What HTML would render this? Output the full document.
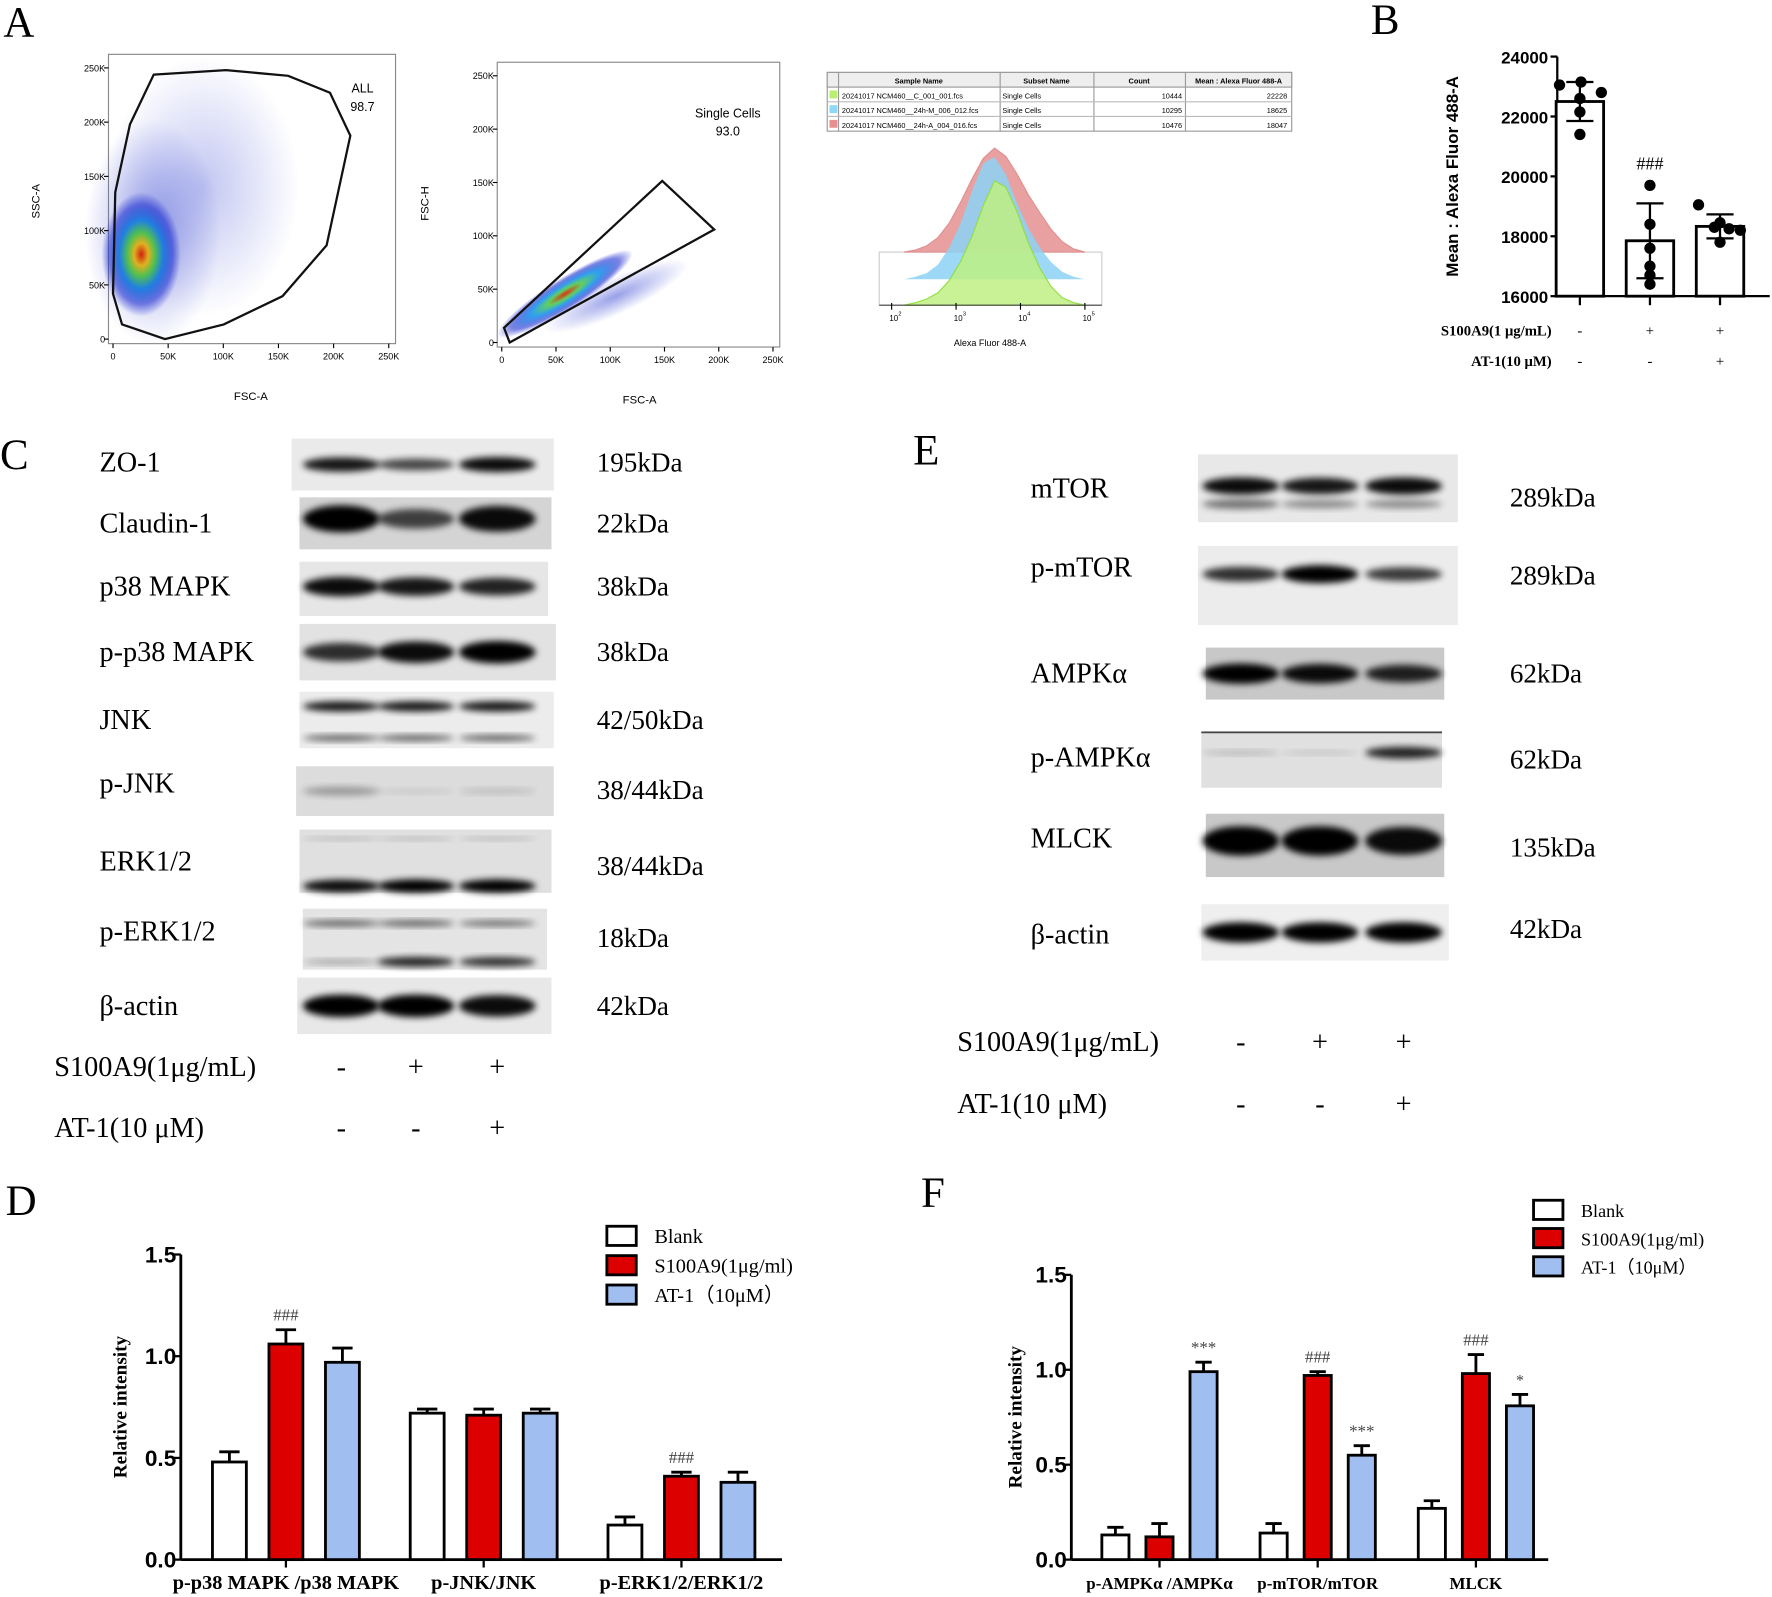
<!DOCTYPE html>
<html><head><meta charset="utf-8">
<style>
html,body{margin:0;padding:0;background:#fff;}
svg{display:block;}
.ser{font-family:"Liberation Serif",serif;}
.san{font-family:"Liberation Sans",sans-serif;}
</style></head>
<body>
<svg id="fig" width="1772" height="1597" viewBox="0 0 1568 1413" xmlns="http://www.w3.org/2000/svg">
<defs>
<filter id="blur3" x="-20%" y="-50%" width="140%" height="200%"><feGaussianBlur stdDeviation="3"/></filter>
<radialGradient id="cloud1" cx="0.5" cy="0.5" r="0.5">
<stop offset="0" stop-color="#d02010"/><stop offset="0.18" stop-color="#e0b020"/><stop offset="0.35" stop-color="#50c050"/><stop offset="0.55" stop-color="#2080e0"/><stop offset="0.8" stop-color="#2030d0" stop-opacity="0.6"/><stop offset="1" stop-color="#2030d0" stop-opacity="0"/>
</radialGradient>
<radialGradient id="cloud1b" cx="0.5" cy="0.5" r="0.5">
<stop offset="0" stop-color="#3040d0" stop-opacity="0.5"/><stop offset="1" stop-color="#3040d0" stop-opacity="0"/>
</radialGradient>
<radialGradient id="cloud2" cx="0.5" cy="0.5" r="0.5">
<stop offset="0" stop-color="#e03010"/><stop offset="0.25" stop-color="#60d060"/><stop offset="0.5" stop-color="#30a0f0"/><stop offset="0.8" stop-color="#2030d0" stop-opacity="0.6"/><stop offset="1" stop-color="#2030d0" stop-opacity="0"/>
</radialGradient>
</defs>

<text x="3" y="32" class="ser" font-size="38">A</text>
<text x="1213" y="30" class="ser" font-size="38">B</text>
<text x="0" y="415" class="ser" font-size="38">C</text>
<text x="808" y="411" class="ser" font-size="38">E</text>
<text x="5" y="1075" class="ser" font-size="38">D</text>
<text x="815" y="1068" class="ser" font-size="38">F</text>

<g id="scatter1">
<rect x="96" y="48" width="254" height="256" fill="none" stroke="#888" stroke-width="1"/>
<ellipse cx="135" cy="205" rx="60" ry="100" fill="url(#cloud1b)"/>
<ellipse cx="180" cy="165" rx="85" ry="115" fill="url(#cloud1b)" opacity="0.6"/>
<ellipse cx="125" cy="225" rx="35" ry="55" fill="url(#cloud1)"/>
<polygon points="136,66 200,62 255,67 292,82 310,120 289,217 250,262 198,287 146,300 108,287 100,260 102,170 115,110" fill="none" stroke="#111" stroke-width="2"/>
<text x="311" y="82" class="san" font-size="11">ALL</text>
<text x="310" y="98" class="san" font-size="11">98.7</text>
<text x="35" y="178" class="san" font-size="10" transform="rotate(-90 35 178)" text-anchor="middle">SSC-A</text>
<text x="222" y="354" class="san" font-size="10" text-anchor="middle">FSC-A</text>
</g>
<g id="scatter2">
<rect x="440" y="55" width="250" height="252" fill="none" stroke="#888" stroke-width="1"/>
<ellipse cx="500" cy="260" rx="70" ry="14" transform="rotate(-32 500 260)" fill="url(#cloud2)"/>
<ellipse cx="545" cy="262" rx="70" ry="16" transform="rotate(-25 545 262)" fill="url(#cloud1b)"/>
<polygon points="446,290 586,160 632,203 451,303" fill="none" stroke="#111" stroke-width="2"/>
<text x="644" y="104" class="san" font-size="11" text-anchor="middle">Single Cells</text>
<text x="644" y="120" class="san" font-size="11" text-anchor="middle">93.0</text>
<text x="379" y="180" class="san" font-size="10" transform="rotate(-90 379 180)" text-anchor="middle">FSC-H</text>
<text x="566" y="357" class="san" font-size="10" text-anchor="middle">FSC-A</text>
</g>

<g id="flowtable" class="san" font-size="6.5">
<rect x="732" y="64" width="411" height="52" fill="#fff" stroke="#999"/>
<rect x="732" y="64" width="411" height="13" fill="#eee" stroke="#999"/>
<line x1="742" y1="64" x2="742" y2="116" stroke="#999"/>
<line x1="885" y1="64" x2="885" y2="116" stroke="#999"/>
<line x1="968" y1="64" x2="968" y2="116" stroke="#999"/>
<line x1="1049" y1="64" x2="1049" y2="116" stroke="#999"/>
<line x1="732" y1="90" x2="1143" y2="90" stroke="#bbb"/>
<line x1="732" y1="103" x2="1143" y2="103" stroke="#bbb"/>
<text x="813" y="74" text-anchor="middle" font-weight="bold">Sample Name</text>
<text x="926" y="74" text-anchor="middle" font-weight="bold">Subset Name</text>
<text x="1008" y="74" text-anchor="middle" font-weight="bold">Count</text>
<text x="1096" y="74" text-anchor="middle" font-weight="bold">Mean : Alexa Fluor 488-A</text>
<rect x="734" y="80" width="7" height="7" fill="#b8f070"/><rect x="734" y="93" width="7" height="7" fill="#90d8f8"/><rect x="734" y="106" width="7" height="7" fill="#e89090"/>
<text x="745" y="87">20241017 NCM460__C_001_001.fcs</text>
<text x="745" y="100">20241017 NCM460__24h-M_006_012.fcs</text>
<text x="745" y="113">20241017 NCM460__24h-A_004_016.fcs</text>
<text x="887" y="87">Single Cells</text><text x="887" y="100">Single Cells</text><text x="887" y="113">Single Cells</text>
<text x="1046" y="87" text-anchor="end">10444</text><text x="1046" y="100" text-anchor="end">10295</text><text x="1046" y="113" text-anchor="end">10476</text>
<text x="1139" y="87" text-anchor="end">22228</text><text x="1139" y="100" text-anchor="end">18625</text><text x="1139" y="113" text-anchor="end">18047</text>
</g>
<g id="histo"></g>
<g id="chartB"></g>
<g id="blotsC"></g>
<g id="blotsE"></g>
<g id="chartD"></g>
<g id="chartF"></g>
</svg>

<script>
const NS="http://www.w3.org/2000/svg";
function mk(parent,tag,attrs,text){const e=document.createElementNS(NS,tag);for(const k in attrs)e.setAttribute(k,attrs[k]);if(text!==undefined)e.textContent=text;parent.appendChild(e);return e;}

const flowTicks=["0","50K","100K","150K","200K","250K"];
function flowAxes(x0,y0,w,h,pad){
  const g=document.getElementById('fig');
  const sx=v=>x0+pad+v*(w-pad-6)/250, sy=v=>y0+h-pad-v*(h-pad-12)/250;
  flowTicks.forEach((t,i)=>{
    const v=i*50;
    const a=mk(g,'text',{x:sx(v),y:y0+h+14,'font-size':8,'text-anchor':'middle','font-family':'Liberation Sans'},t);
    
    
    const b=mk(g,'text',{x:x0-3,y:sy(v)+3,'font-size':8,'text-anchor':'end','font-family':'Liberation Sans'},t);
    
    
    mk(g,'line',{x1:sx(v),x2:sx(v),y1:y0+h,y2:y0+h+4,stroke:'#000'});
    mk(g,'line',{x1:x0,x2:x0-4,y1:sy(v),y2:sy(v),stroke:'#000'});
  });
}
flowAxes(96,48,254,256,4);
flowAxes(440,55,250,252,4);

const histBins=[0,0.02,0.05,0.1,0.2,0.35,0.55,0.8,1.0,0.95,0.75,0.5,0.3,0.15,0.06,0.02,0];
const histRed=[0,0.02,0.06,0.14,0.28,0.48,0.7,0.9,1.0,0.92,0.75,0.55,0.38,0.22,0.1,0.03,0];
const histBlue=[0,0.02,0.05,0.12,0.26,0.46,0.72,0.95,1.0,0.86,0.62,0.42,0.26,0.14,0.06,0.02,0];
(function(){
  const g=document.getElementById('histo');
  const x0=800,x1=960;
  const sx=i=>x0+i*(x1-x0)/(histBins.length-1);
  function area(vals,base,hgt,fill,stroke){
    let d=`M${x0},${base}`;vals.forEach((v,i)=>d+=` L${sx(i)},${base-v*hgt}`);d+=` L${x1},${base} Z`;
    return mk(g,'path',{d,fill,stroke:stroke||'none','stroke-width':1});
  }
  mk(g,'rect',{x:778,y:223,width:197,height:47,fill:'#fff',stroke:'#ccc'});
  const r=area(histRed,223,92,'#e8a0a0','#e09090');
  const b=area(histBlue,247,108,'rgba(140,210,245,0.85)');
  const gr=area(histBins,270,110,'rgba(190,240,130,0.85)','#90e040');
  mk(g,'line',{x1:778,x2:975,y1:270,y2:270,stroke:'#444'});
  ['10','10','10','10'].forEach((t,i)=>{
    const x=787+i*57;
    mk(g,'line',{x1:x+2,x2:x+2,y1:268,y2:274,stroke:'#000'});
    const tt=mk(g,'text',{x:x,y:284,'font-size':7,'font-family':'Liberation Sans'},t);
    
    
    mk(g,'text',{x:x+8,y:279,'font-size':5,'font-family':'Liberation Sans'},String(i+2));
  });
  const lab=mk(g,'text',{x:876,y:306,'font-size':8,'text-anchor':'middle','font-family':'Liberation Sans'},'Alexa Fluor 488-A');
  
})();

const bCats=["Blank","S100A9","AT-1"];
const bMeans=[22500,17850,18330];
const bSD=[650,1250,400];
const bPoints=[[23050,23150,22800,22600,22150,21400],[19700,18400,17600,17000,16700,16400],[19050,18450,18300,18250,18200,17800]];
const bTicks=[16000,18000,20000,22000,24000];
(function(){
  const g=document.getElementById('chartB');
  const X0=1378,Yb=262,Yt=50,ymin=16000,ymax=24000;
  const sy=v=>Yb-(v-ymin)/(ymax-ymin)*(Yb-Yt);
  const cx=i=>1398+i*62;
  mk(g,'line',{x1:X0,x2:X0,y1:Yt,y2:Yb,stroke:'#000','stroke-width':2});
  mk(g,'line',{x1:X0,x2:1566,y1:Yb,y2:Yb,stroke:'#000','stroke-width':2});
  bTicks.forEach(t=>{
    mk(g,'line',{x1:X0-6,x2:X0,y1:sy(t),y2:sy(t),stroke:'#000','stroke-width':2});
    const l=mk(g,'text',{x:X0-8,y:sy(t)+6,'font-size':15,'font-weight':'bold','text-anchor':'end','font-family':'Liberation Sans'},t);
    
  });
  const yt=mk(g,'text',{x:1290,y:156,'font-size':15,'font-weight':'bold','text-anchor':'middle','font-family':'Liberation Sans',transform:'rotate(-90 1290 156)'},'Mean : Alexa Fluor 488-A');
  
  const jit=[[-18,1,19,0,0,0],[0,0,0,0,0,0],[-19,0,-5,8,18,0]];
  bCats.forEach((c,i)=>{
    const x=cx(i);
    const r=mk(g,'rect',{x:x-21,y:sy(bMeans[i]),width:42,height:Yb-sy(bMeans[i]),fill:'#fff',stroke:'#000','stroke-width':2.5});
    
    mk(g,'line',{x1:x,x2:x,y1:sy(bMeans[i]+bSD[i]),y2:sy(bMeans[i]-bSD[i]),stroke:'#000','stroke-width':2});
    [1,-1].forEach(s=>mk(g,'line',{x1:x-12,x2:x+12,y1:sy(bMeans[i]+s*bSD[i]),y2:sy(bMeans[i]+s*bSD[i]),stroke:'#000','stroke-width':2}));
    bPoints[i].forEach((p,j)=>{
      const d=mk(g,'circle',{cx:x+jit[i][j],cy:sy(p),r:5,fill:'#000'});
      
    });
    mk(g,'line',{x1:x,x2:x,y1:Yb,y2:Yb+8,stroke:'#000','stroke-width':2});
  });
  const h=mk(g,'text',{x:cx(1),y:150,'font-size':16,'text-anchor':'middle','font-family':'Liberation Serif'},'###');
  
  const rowsB=[["S100A9(1 μg/mL)",["-","+","+"],297],["AT-1(10 μM)",["-","-","+"],324]];
  rowsB.forEach(r=>{
    const t=mk(g,'text',{x:1373,y:r[2],'font-size':13,'font-weight':'bold','text-anchor':'end','font-family':'Liberation Serif'},r[0]);
    
    r[1].forEach((s,i)=>{const q=mk(g,'text',{x:cx(i),y:r[2],'font-size':13,'text-anchor':'middle','font-family':'Liberation Serif'},s);});
  });
})();

function blots(gid,rows,lanes,labelX,kdaX,bw){
  const g=document.getElementById(gid);
  rows.forEach(r=>{
    const [name,kda,y,x0,x1,h,bands,bg,ty,ky]=r;
    const bx=mk(g,'rect',{x:x0,y:y-h/2,width:x1-x0,height:h,fill:bg});
    
    
    bands.forEach(bd=>{
      const [dy,ints,th]=bd;
      lanes.forEach((lx,i)=>{
        if(ints[i]<=0)return;
        mk(g,'ellipse',{cx:lx,cy:y+dy,rx:bw,ry:th*ints[i]+1,fill:'#000',opacity:Math.min(1,ints[i]),filter:'url(#blur3)'});
      });
    });
    const t=mk(g,'text',{x:labelX,y:(ty||y)+8,'font-size':25,'font-family':'Liberation Serif'},name);
    
    const k=mk(g,'text',{x:kdaX,y:(ky||y)+8,'font-size':24,'font-family':'Liberation Serif'},kda);
    
  });
}
const lanesC=[302,368,440];
const rowsC=[
 ["ZO-1","195kDa",411,258,490,46,[[0,[0.9,0.7,0.95],6]],"#eaeaea",409,409],
 ["Claudin-1","22kDa",463,265,488,46,[[-4,[1,0.7,0.95],11]],"#d4d4d4"],
 ["p38 MAPK","38kDa",521,265,485,48,[[-2,[0.95,0.9,0.85],8]],"#e6e6e6",519,519],
 ["p-p38 MAPK","38kDa",577,265,492,50,[[0,[0.8,0.95,1],9]],"#e2e2e2"],
 ["JNK","42/50kDa",637,265,490,50,[[-12,[0.9,0.9,0.9],4],[16,[0.6,0.6,0.6],3]],"#ececec"],
 ["p-JNK","38/44kDa",700,262,490,44,[[0,[0.3,0.1,0.15],10]],"#dcdcdc",693,699],
 ["ERK1/2","38/44kDa",762,265,488,56,[[-20,[0.2,0.2,0.2],3],[22,[0.95,1,1],5]],"#e0e0e0",762,766],
 ["p-ERK1/2","18kDa",831,268,484,54,[[-14,[0.6,0.6,0.55],3],[20,[0.3,0.85,0.8],4]],"#e4e4e4",824,830],
 ["β-actin","42kDa",890,263,488,50,[[0,[1,1,0.95],9]],"#e8e8e8"]
];
blots('blotsC',rowsC,lanesC,88,528,34);
(function(){
  const g=document.getElementById('blotsC');
  const rowsT=[["S100A9(1μg/mL)",["-","+","+"],944],["AT-1(10 μM)",["-","-","+"],998]];
  rowsT.forEach(r=>{
    const t=mk(g,'text',{x:48,y:r[2]+8,'font-size':25,'font-family':'Liberation Serif'},r[0]);
    
    r[1].forEach((s,i)=>{const q=mk(g,'text',{x:lanesC[i],y:r[2]+8,'font-size':25,'text-anchor':'middle','font-family':'Liberation Serif'},s);});
  });
})();
const lanesE=[1098,1168,1242];
const rowsE=[
 ["mTOR","289kDa",432,1060,1290,60,[[-2,[0.95,0.9,0.95],7],[14,[0.5,0.4,0.4],7]],"#e8e8e8",432,440],
 ["p-mTOR","289kDa",518,1060,1290,70,[[-10,[0.8,1,0.75],7]],"#ececec",502,509],
 ["AMPKα","62kDa",596,1067,1278,46,[[0,[1,0.95,0.85],8]],"#c8c8c8"],
 ["p-AMPKα","62kDa",672,1063,1276,50,[[-6,[0.2,0.15,0.85],5]],"#e0e0e0",670,672],
 ["MLCK","135kDa",748,1067,1278,56,[[-4,[1,1,0.95],12]],"#c8c8c8",742,750],
 ["β-actin","42kDa",825,1063,1282,50,[[0,[1,1,1],8]],"#efefef",827,822]
];
blots('blotsE',rowsE,lanesE,912,1336,34);
(function(){
  const g=document.getElementById('blotsE');
  mk(g,'line',{x1:1063,x2:1276,y1:648,y2:648,stroke:'#444','stroke-width':1.5});
  const rowsT=[["S100A9(1μg/mL)",["-","+","+"],922],["AT-1(10 μM)",["-","-","+"],977]];
  rowsT.forEach(r=>{
    const t=mk(g,'text',{x:847,y:r[2]+8,'font-size':25,'font-family':'Liberation Serif'},r[0]);
    
    r[1].forEach((s,i)=>{const q=mk(g,'text',{x:lanesE[i],y:r[2]+8,'font-size':25,'text-anchor':'middle','font-family':'Liberation Serif'},s);});
  });
})();

const dCats=["p-p38 MAPK /p38 MAPK","p-JNK/JNK","p-ERK1/2/ERK1/2"];
const dBlank=[0.48,0.72,0.17];
const dS100=[1.06,0.71,0.41];
const dAT=[0.97,0.72,0.38];
const dBlankErr=[0.05,0.02,0.04];
const dS100Err=[0.07,0.03,0.02];
const dATErr=[0.07,0.02,0.05];
const dMarks=[["","###",""],["","",""],["","###",""]];
const fCats=["p-AMPKα /AMPKα","p-mTOR/mTOR","MLCK"];
const fBlank=[0.13,0.14,0.27];
const fS100=[0.12,0.97,0.98];
const fAT=[0.99,0.55,0.81];
const fBlankErr=[0.04,0.05,0.04];
const fS100Err=[0.07,0.02,0.10];
const fATErr=[0.05,0.05,0.06];
const fMarks=[["","","***"],["","###","***"],["","###","*"]];
const yTicks=[0.0,0.5,1.0,1.5];
const seriesNames=["Blank","S100A9(1μg/ml)","AT-1（10μM）"];
const seriesColors=["#ffffff","#dd0000","#a0bff0"];

function barChart(gid,o){
  const g=document.getElementById(gid);
  const sy=v=>o.y0-v/1.5*(o.y0-o.yTop);
  mk(g,'line',{x1:o.x0,x2:o.x0,y1:o.yTop,y2:o.y0,stroke:'#000','stroke-width':2.5});
  mk(g,'line',{x1:o.x0,x2:o.xEnd,y1:o.y0,y2:o.y0,stroke:'#000','stroke-width':2.5});
  yTicks.forEach(t=>{
    mk(g,'line',{x1:o.x0-6,x2:o.x0,y1:sy(t),y2:sy(t),stroke:'#000','stroke-width':2});
    const l=mk(g,'text',{x:o.x0-4,y:sy(t)+7,'font-size':20,'font-weight':'bold','text-anchor':'end','font-family':'Liberation Sans'},t.toFixed(1));
    
  });
  const yt=mk(g,'text',{x:o.ytX,y:(o.y0+o.yTop)/2,'font-size':17,'font-weight':'bold','text-anchor':'middle','font-family':'Liberation Serif',transform:`rotate(-90 ${o.ytX} ${(o.y0+o.yTop)/2})`},'Relative intensity');
  
  const vals=[o.blank,o.s100,o.at], errs=[o.be,o.se,o.ae];
  o.cats.forEach((c,i)=>{
    const gc=o.g0+i*o.gStep;
    vals.forEach((arr,s)=>{
      const x=gc+(s-1)*o.bStep, v=arr[i], e=errs[s][i];
      const w=o.bw;
      mk(g,'line',{x1:x,x2:x,y1:sy(v),y2:sy(v+e),stroke:'#000','stroke-width':2.5});
      mk(g,'line',{x1:x-w*0.3,x2:x+w*0.3,y1:sy(v+e),y2:sy(v+e),stroke:'#000','stroke-width':2.5});
      const r=mk(g,'rect',{x:x-w/2,y:sy(v),width:w,height:o.y0-sy(v),fill:seriesColors[s],stroke:'#000','stroke-width':2.5});
      
      
      const m=o.marks[i][s];
      if(m){const t=mk(g,'text',{x:x,y:sy(v+e)-8,'font-size':m==='*'?14:15,'text-anchor':'middle','fill':'#444','font-family':'Liberation Serif'},m);}
    });
    mk(g,'line',{x1:gc,x2:gc,y1:o.y0,y2:o.y0+7,stroke:'#000','stroke-width':2});
    const l=mk(g,'text',{x:gc,y:o.y0+26,'font-size':o.catFont,'font-weight':'bold','text-anchor':'middle','font-family':'Liberation Serif'},c);
    
  });
  seriesNames.forEach((n,s)=>{
    const y=o.legY+s*o.legStep;
    const r=mk(g,'rect',{x:o.legX,y:y,width:26,height:17,fill:seriesColors[s],stroke:'#000','stroke-width':2.5});
    
    const t=mk(g,'text',{x:o.legX+42,y:y+15,'font-size':o.legFont,'font-family':'Liberation Serif'},n);
    
  });
}
barChart('chartD',{x0:160,y0:1380,yTop:1110,xEnd:692,g0:253,gStep:175,bStep:50,bw:30,cats:dCats,blank:dBlank,s100:dS100,at:dAT,be:dBlankErr,se:dS100Err,ae:dATErr,marks:dMarks,ytX:112,catFont:18,legX:537,legY:1085,legStep:26,legFont:18});
barChart('chartF',{x0:948,y0:1380,yTop:1128,xEnd:1370,g0:1026,gStep:140,bStep:39,bw:24,cats:fCats,blank:fBlank,s100:fS100,at:fAT,be:fBlankErr,se:fS100Err,ae:fATErr,marks:fMarks,ytX:904,catFont:15,legX:1357,legY:1062,legStep:25,legFont:16});
</script>
</body></html>
